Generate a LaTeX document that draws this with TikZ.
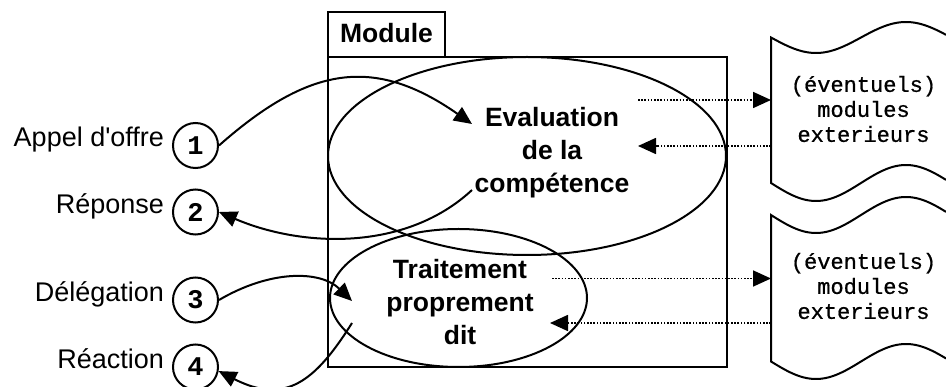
\documentclass[tikz,border=0pt]{standalone}
\usepackage{fontspec}
\setmainfont{Liberation Sans}
\setmonofont{Liberation Mono}
\newfontfamily\courfat[FakeBold=0.7]{Liberation Mono}
\usetikzlibrary{shapes.geometric,arrows.meta}
\begin{document}
\begin{tikzpicture}[x=1pt,y=-1pt,line width=2pt,
  lbl/.style={font=\fontsize{27}{33}\selectfont,inner sep=0pt,anchor=base east},
  num/.style={draw,circle,minimum size=45pt,inner sep=0pt,font=\ttfamily\bfseries\fontsize{27}{30}\selectfont},
  big/.style={font=\bfseries\fontsize{26.5}{33}\selectfont,align=center,inner sep=0pt},
  mono/.style={font=\courfat\fontsize{22}{25}\selectfont,align=center,inner sep=0pt},
  oval/.style={draw,ellipse,inner sep=0pt},
  tip/.style={-{Triangle[length=18pt,width=16pt]}},
  dots/.style={tip,dash pattern=on 1.6pt off 1.6pt,line width=1.7pt}]
\useasboundingbox (0,0) rectangle (946,387);
\fill[white] (0,0) rectangle (946,387);
% module
\node[draw,minimum width=117pt,minimum height=45pt,inner sep=0pt,text height=19pt,text depth=3pt,
      font=\bfseries\fontsize{26.5}{32}\selectfont] (tab) at (386.5,34.5) {Module};
\node[draw,minimum width=399pt,minimum height=310pt,inner sep=0pt] (box) at (527.5,212) {};
\node[oval,minimum width=398pt,minimum height=198pt] (evo) at (527,156) {};
\node[oval,minimum width=257pt,minimum height=138pt] (tro) at (458.5,298) {};
\node[big] (ev) at (552,153) {Evaluation\\de la\\compétence};
\node[big] (tr) at (460,302) {Traitement\\proprement\\dit};
% external modules
\draw plot[domain=946:771,samples=90,smooth] (\x,{37.5+15.5*sin(2*(\x-771))})
   -- plot[domain=771:946,samples=90,smooth] (\x,{183+18*sin(2*(\x-771))});
\draw plot[domain=946:771,samples=90,smooth] (\x,{215+18*sin(2*(\x-771))})
   -- plot[domain=771:946,samples=90,smooth] (\x,{361.5+17.5*sin(2*(\x-771))});
\node[mono] (ext1) at (863.5,109) {(éventuels)\\modules\\exterieurs};
\node[mono] (ext2) at (863.5,286) {(éventuels)\\modules\\exterieurs};
% circles and labels
\node[num] (c1) at (195.5,145.5) {1};
\node[num] (c2) at (195.5,212) {2};
\node[num] (c3) at (195.5,300) {3};
\node[num] (c4) at (195.5,367) {4};
\node[lbl] (l1) at ([xshift=-7pt,yshift=-1.5pt]c1.west) {Appel d\textquotesingle offre};
\node[lbl] (l2) at ([xshift=-7pt,yshift=-1.5pt]c2.west) {Réponse};
\node[lbl] (l3) at ([xshift=-7pt,yshift=-1.5pt]c3.west) {Délégation};
\node[lbl] (l4) at ([xshift=-7pt,yshift=-1.5pt]c4.west) {Réaction};
% connector ends
\coordinate (a1) at (472,124);
\coordinate (a2) at (472,190);
\coordinate (a3) at (352,301);
\coordinate (a4) at (352,323);
\coordinate (d1s) at (638,100);
\coordinate (d1e) at (771,100);
\coordinate (d2s) at (771,146);
\coordinate (d2e) at (638,146);
\coordinate (d3s) at (552,278.5);
\coordinate (d3e) at (771,278.5);
\coordinate (d4s) at (771,323);
\coordinate (d4e) at (550,323);
% curved arrows
\draw[tip] (c1.east) .. controls (308.6,66.3) and (373.7,55.2) .. (a1);
\draw[tip] (a2) .. controls (406,251.4) and (302.4,247.7) .. (c2.east);
\draw[tip] (c3.east) .. controls (270,270) and (320,270) .. (a3);
\draw[tip] (a4) .. controls (315,382) and (285,405) .. (c4.-10);
% dotted arrows
\draw[dots] (d1s) -- (d1e);
\draw[dots] (d2s) -- (d2e);
\draw[dots] (d3s) -- (d3e);
\draw[dots] (d4s) -- (d4e);
\end{tikzpicture}
\end{document}
